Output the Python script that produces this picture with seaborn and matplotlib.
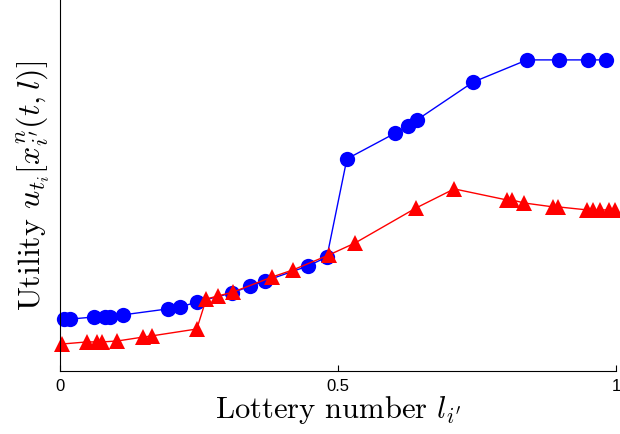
import numpy as np
import pandas as pd
import seaborn as sns
import matplotlib.pyplot as plt

# values (x = lottery number, y = utility, arbitrary units)
blue_x = [0.007, 0.018, 0.061, 0.081, 0.090, 0.113, 0.194, 0.216, 0.246, 0.309,
          0.342, 0.369, 0.446, 0.480, 0.516, 0.603, 0.626, 0.642, 0.743, 0.840,
          0.897, 0.950, 0.982]
blue_y = [0.173, 0.173, 0.180, 0.180, 0.180, 0.187, 0.207, 0.213, 0.230, 0.260,
          0.283, 0.300, 0.350, 0.380, 0.707, 0.793, 0.817, 0.837, 0.963, 1.037,
          1.037, 1.037, 1.037]
red_x = [0.004, 0.049, 0.067, 0.076, 0.103, 0.149, 0.165, 0.246, 0.263, 0.284,
         0.311, 0.381, 0.419, 0.484, 0.531, 0.640, 0.709, 0.804, 0.813, 0.835,
         0.887, 0.896, 0.948, 0.959, 0.971, 0.987, 0.998]
red_y = [0.090, 0.097, 0.097, 0.097, 0.100, 0.113, 0.117, 0.140, 0.240, 0.250,
         0.263, 0.313, 0.337, 0.387, 0.427, 0.543, 0.607, 0.570, 0.570, 0.560,
         0.547, 0.547, 0.537, 0.537, 0.537, 0.537, 0.537]
x_ticks = [0, 0.5, 1]
x_tick_labels = ["0", "0.5", "1"]

sns.set_style("ticks")
plt.rcParams['font.family'] = ['serif']
plt.rcParams['font.serif'] = ['cmr10', 'DejaVu Serif']
plt.rcParams['mathtext.fontset'] = 'cm'
plt.rcParams['axes.unicode_minus'] = False
plt.rcParams['text.color'] = 'black'
plt.rcParams['axes.labelcolor'] = 'black'

df_blue = pd.DataFrame({'x': blue_x, 'y': blue_y})
df_red = pd.DataFrame({'x': red_x, 'y': red_y})

fig = plt.figure(figsize=(6.2, 4.35), dpi=100)
ax = fig.add_axes([60 / 620, 63 / 435, 556 / 620, 372 / 435])

sns.lineplot(data=df_blue, x='x', y='y', ax=ax, sort=False, estimator=None,
             color='#0000ff', lw=1, marker='o', markersize=11,
             markeredgewidth=0, clip_on=False)
sns.lineplot(data=df_red, x='x', y='y', ax=ax, sort=False, estimator=None,
             color='#ff0000', lw=1, marker='^', markersize=11,
             markeredgewidth=0, clip_on=False)

ax.set_xlim(0, 1)
ax.set_ylim(0, 1.24)
ax.set_xticks(x_ticks)
ax.set_xticklabels(x_tick_labels, family='Liberation Sans', fontsize=12)
ax.set_yticks([])
ax.tick_params(axis='x', direction='in', length=4, width=0.8, pad=5, colors='black')
for s in ['top', 'right']:
    ax.spines[s].set_visible(False)
for s in ['left', 'bottom']:
    ax.spines[s].set_linewidth(0.8)
    ax.spines[s].set_color('black')

ax.set_xlabel(r"Lottery number $l_{i'}$", fontsize=22, labelpad=0)
ax.set_ylabel(r"Utility $u_{t_i}[x^n_{i'}(t,l)]$", fontsize=23, labelpad=6)

plt.savefig('out.png', dpi=100)
